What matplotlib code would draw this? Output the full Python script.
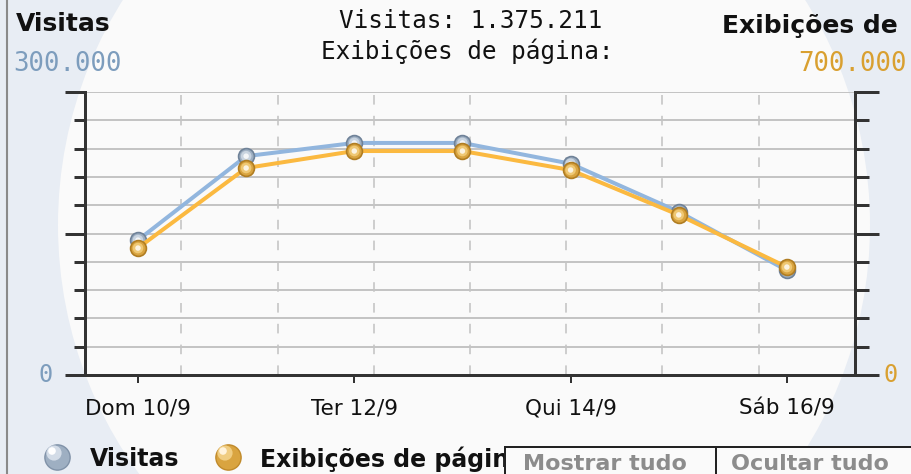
import numpy as np
import matplotlib
matplotlib.use("Agg")
import matplotlib.pyplot as plt
from matplotlib.patches import Ellipse, Rectangle
from matplotlib.ticker import MultipleLocator

# ---- data ----
categories = ["Dom 10/9", "Seg 11/9", "Ter 12/9", "Qua 13/9", "Qui 14/9", "Sex 15/9", "Sáb 16/9"]
visitas = [143000, 232000, 246000, 246000, 224000, 173000, 111000]
pageviews = [314000, 512000, 554000, 554000, 507000, 396000, 267000]
shown_ticks = [0, 2, 4, 6]
visitas_max = 300000
pageviews_max = 700000
title_lines = ["Visitas: 1.375.211", "Exibições de página:"]

W, H = 912, 474
fig = plt.figure(figsize=(W / 100, H / 100), dpi=100)
fig.patch.set_facecolor("#e8edf4")

# background / overlay axes in pixel coordinates
bg = fig.add_axes([0, 0, 1, 1], zorder=0)
bg.set_xlim(0, W)
bg.set_ylim(H, 0)
bg.axis("off")
bg.add_patch(Ellipse((464, 225), 812, 830, facecolor="#fafafa", edgecolor="none", zorder=0))
bg.plot([7, 7], [0, H], color="#8a8a8a", lw=1.5, zorder=1)

BLUE_LINE = "#92b6de"
ORANGE_LINE = "#fbb940"
BLUE_TXT = "#7d9dbd"
ORANGE_TXT = "#d9a030"
AX_COL = "#333333"

px = 0.72  # points per pixel
ax = fig.add_axes([85 / W, (H - 375) / H, 770 / W, 283 / H], zorder=2)
ax.set_facecolor("none")
x = np.arange(len(categories))
ax.set_xlim(-0.49, 6.63)
ax.set_ylim(0, visitas_max)
ax2 = ax.twinx()
ax2.set_ylim(0, pageviews_max)
ax2.set_zorder(3)

for a in (ax, ax2):
    for s in a.spines.values():
        s.set_visible(False)

ax.spines["left"].set_visible(True)
ax.spines["left"].set_linewidth(3 * px)
ax.spines["left"].set_color(AX_COL)
ax.spines["bottom"].set_visible(True)
ax.spines["bottom"].set_linewidth(3 * px)
ax.spines["bottom"].set_color(AX_COL)
ax2.spines["right"].set_visible(True)
ax2.spines["right"].set_linewidth(3 * px)
ax2.spines["right"].set_color(AX_COL)

ax.yaxis.set_major_locator(MultipleLocator(visitas_max / 2))
ax.yaxis.set_minor_locator(MultipleLocator(visitas_max / 10))
ax.tick_params(axis="y", which="major", direction="out", length=20 * px, width=3 * px,
               color=AX_COL, labelleft=False)
ax.tick_params(axis="y", which="minor", direction="out", length=11 * px, width=3 * px,
               color=AX_COL)
ax2.yaxis.set_major_locator(MultipleLocator(pageviews_max / 2))
ax2.yaxis.set_minor_locator(MultipleLocator(pageviews_max / 10))
ax2.tick_params(axis="y", which="major", direction="out", length=24 * px, width=3 * px,
                color=AX_COL, labelright=False)
ax2.tick_params(axis="y", which="minor", direction="out", length=14 * px, width=3 * px,
                color=AX_COL)

ax.set_xticks(shown_ticks)
ax.set_xticklabels([categories[i] for i in shown_ticks], fontsize=15.5,
                   family="DejaVu Sans", color="#111111")
ax.tick_params(axis="x", direction="out", length=8 * px, width=2 * px, color=AX_COL, pad=11)

# grid
ax.grid(axis="y", which="both", color="#c4c4c4", lw=2 * px, zorder=0)
ax.set_axisbelow(True)
xl = ax.get_xlim()
for gx in np.linspace(xl[0], xl[1], 9)[1:-1]:
    ax.axvline(gx, color="#c4c4c4", lw=1.6 * px, ls=(0, (6, 7)), zorder=0.5)


def sphere(axis, xs, ys, base, edge, mid, size=130, z=5, **kw):
    axis.scatter(xs, ys, s=size, color=base, edgecolors=edge, linewidths=1.2, zorder=z, **kw)
    axis.scatter(xs, ys, s=size * 0.45, color=mid, edgecolors="none", zorder=z + 0.1, **kw)
    axis.scatter(xs, ys, s=size * 0.12, color="#ffffff", edgecolors="none", alpha=0.8,
                 zorder=z + 0.2, **kw)


ax.plot(x, visitas, color=BLUE_LINE, lw=4 * px, zorder=4, solid_capstyle="round")
sphere(ax, x, visitas, "#9eafc2", "#6f8298", "#c9d4e0", z=5)
ax2.plot(x, pageviews, color=ORANGE_LINE, lw=4 * px, zorder=4, solid_capstyle="round")
sphere(ax2, x, pageviews, "#d9a440", "#b07d22", "#efc874", z=5)

# texts
bg.text(16, 24, "Visitas", fontsize=18, fontweight="bold", family="DejaVu Sans",
        ha="left", va="center", color="#111111")
bg.text(722, 26, "Exibições de", fontsize=18, fontweight="bold", family="DejaVu Sans",
        ha="left", va="center", color="#111111")
bg.text(13, 64, f"{visitas_max:,}".replace(",", "."), fontsize=18.5, family="DejaVu Sans Mono",
        ha="left", va="center", color=BLUE_TXT)
bg.text(907, 64, f"{pageviews_max:,}".replace(",", "."), fontsize=18.5, family="DejaVu Sans Mono",
        ha="right", va="center", color=ORANGE_TXT)
bg.text(46, 375, "0", fontsize=17, family="DejaVu Sans Mono", ha="center", va="center",
        color=BLUE_TXT)
bg.text(891, 375, "0", fontsize=17, family="DejaVu Sans Mono", ha="center", va="center",
        color=ORANGE_TXT)
bg.text(471, 21, title_lines[0], fontsize=17.5, family="DejaVu Sans Mono",
        ha="center", va="center", color="#111111")
bg.text(467, 51, title_lines[1], fontsize=17.5, family="DejaVu Sans Mono",
        ha="center", va="center", color="#111111")

# legend
bg.scatter([57], [457], s=330, color="#9eafc2", edgecolors="#8092a8", linewidths=1, zorder=5)
bg.scatter([54], [453], s=120, color="#d3dce7", edgecolors="none", zorder=5.1)
bg.scatter([52], [451], s=30, color="#ffffff", edgecolors="none", zorder=5.2)
bg.scatter([228], [457], s=330, color="#d9a440", edgecolors="#c08a2a", linewidths=1, zorder=5)
bg.scatter([225], [453], s=120, color="#f0cd82", edgecolors="none", zorder=5.1)
bg.scatter([223], [451], s=30, color="#fff3dc", edgecolors="none", zorder=5.2)
bg.text(90, 459, "Visitas", fontsize=17, fontweight="bold", family="DejaVu Sans",
        ha="left", va="center", color="#111111")
bg.text(260, 459, "Exibições de págin", fontsize=17, fontweight="bold", family="DejaVu Sans",
        ha="left", va="center", color="#111111")

# buttons
bg.add_patch(Rectangle((505, 447), 211, 40, facecolor="#fafafa", edgecolor="#222222",
                       lw=2 * px, zorder=6))
bg.add_patch(Rectangle((716, 447), 210, 40, facecolor="#fafafa", edgecolor="#222222",
                       lw=2 * px, zorder=6))
bg.text(523, 473.5, "Mostrar tudo", fontsize=16, fontweight="bold", family="DejaVu Sans",
        ha="left", va="bottom", color="#8c8c8c", zorder=7)
bg.text(731, 473.5, "Ocultar tudo", fontsize=16, fontweight="bold", family="DejaVu Sans",
        ha="left", va="bottom", color="#8c8c8c", zorder=7)

fig.savefig("out.png", dpi=100, facecolor=fig.get_facecolor())
